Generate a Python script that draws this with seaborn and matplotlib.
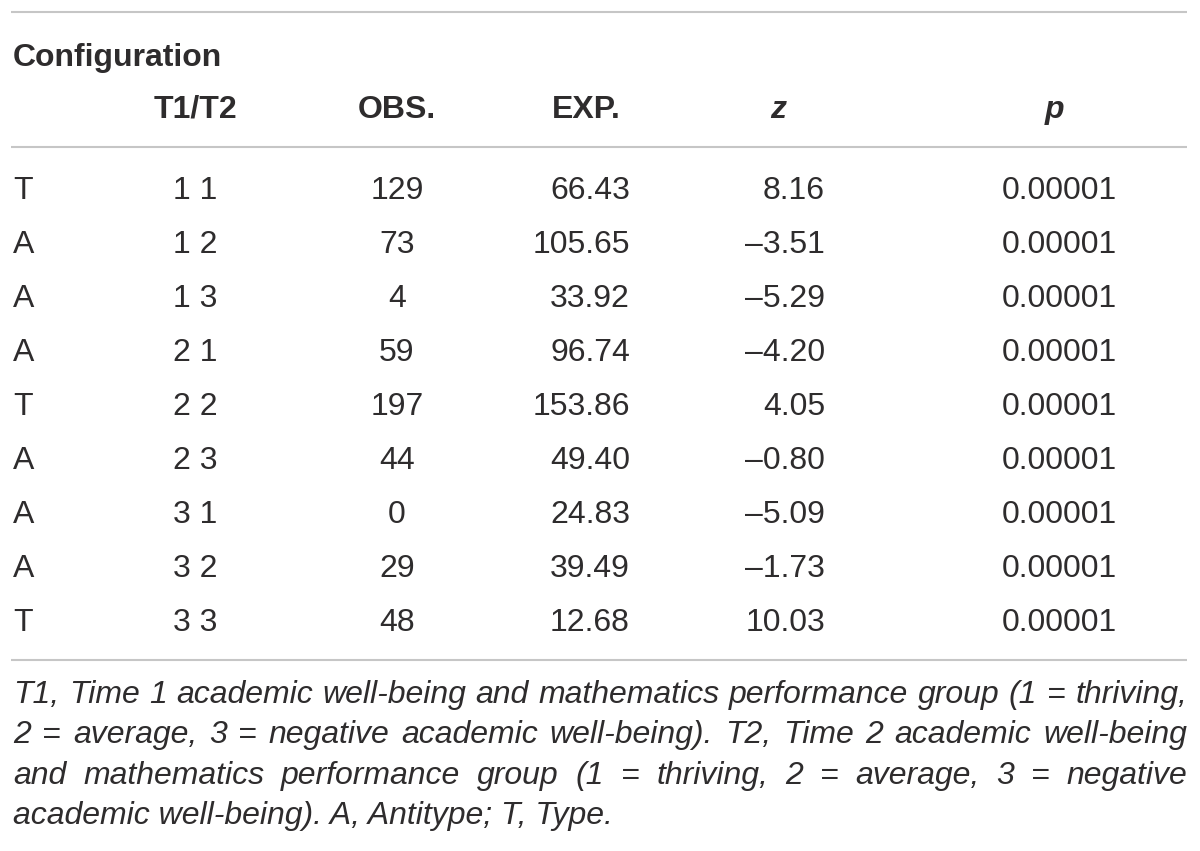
import matplotlib
matplotlib.use("Agg")
import matplotlib.pyplot as plt
import seaborn as sns

# table content
config_type = ["T", "A", "A", "A", "T", "A", "A", "A", "T"]
t1_t2 = ["1 1", "1 2", "1 3", "2 1", "2 2", "2 3", "3 1", "3 2", "3 3"]
observed = [129, 73, 4, 59, 197, 44, 0, 29, 48]
expected = [66.43, 105.65, 33.92, 96.74, 153.86, 49.40, 24.83, 39.49, 12.68]
z_values = [8.16, -3.51, -5.29, -4.20, 4.05, -0.80, -5.09, -1.73, 10.03]
p_values = [0.00001, 0.00001, 0.00001, 0.00001, 0.00001, 0.00001, 0.00001, 0.00001, 0.00001]

footnote_lines = [
    "T1, Time 1 academic well-being and mathematics performance group (1 = thriving,",
    "2 = average, 3 = negative academic well-being). T2, Time 2 academic well-being",
    "and mathematics performance group (1 = thriving, 2 = average, 3 = negative",
    "academic well-being). A, Antitype; T, Type.",
]

sns.set_theme(style="white")
plt.rcParams["font.family"] = ["Liberation Sans", "DejaVu Sans"]

TXT = "#2e2c2d"
RULE = "#c6c6c6"
FS = 23.0
FS_NOTE = 23.0

fig = plt.figure(figsize=(12, 8.51), dpi=100)
ax = fig.add_axes([0, 0, 1, 1])
ax.set_xlim(0, 1200)
ax.set_ylim(851, 0)
ax.axis("off")

left, right = 13, 1187

# rules
for y in [12, 147, 660]:
    ax.plot([left - 2, right], [y, y], color=RULE, lw=1.5, solid_capstyle="butt")

# headers
ax.text(left, 66, "Configuration", fontsize=FS, fontweight="bold", color=TXT, va="baseline")
head_y = 118
ax.text(195, head_y, "T1/T2", fontsize=FS, fontweight="bold", color=TXT, ha="center", va="baseline")
ax.text(397, head_y, "OBS.", fontsize=FS, fontweight="bold", color=TXT, ha="center", va="baseline")
ax.text(586, head_y, "EXP.", fontsize=FS, fontweight="bold", color=TXT, ha="center", va="baseline")
ax.text(778, head_y, "z", fontsize=FS, fontweight="bold", style="italic", color=TXT, ha="center", va="baseline")
ax.text(1054, head_y, "p", fontsize=FS, fontweight="bold", style="italic", color=TXT, ha="center", va="baseline")

# body rows
row0, row_step = 199, 54
for i in range(len(config_type)):
    y = row0 + i * row_step
    kw = dict(fontsize=FS, color=TXT, va="baseline")
    ax.text(left, y, config_type[i], ha="left", **kw)
    ax.text(195, y, t1_t2[i], ha="center", **kw)
    ax.text(397, y, str(observed[i]), ha="center", **kw)
    ax.text(630, y, f"{expected[i]:.2f}", ha="right", **kw)
    z_txt = f"{z_values[i]:.2f}".replace("-", "\u2013")
    ax.text(825, y, z_txt, ha="right", **kw)
    ax.text(1117, y, f"{p_values[i]:.5f}", ha="right", **kw)

# footnote, justified like the source
fig.canvas.draw()
renderer = fig.canvas.get_renderer()
note0, note_step = 703, 40.3
for j, line in enumerate(footnote_lines):
    y = note0 + j * note_step
    words = line.split(" ")
    kw = dict(fontsize=FS_NOTE, color=TXT, va="baseline", style="italic")
    if j == len(footnote_lines) - 1:
        ax.text(left, y, line, ha="left", **kw)
        continue
    arts = [ax.text(0, y, w, ha="left", **kw) for w in words]
    widths = [a.get_window_extent(renderer).width for a in arts]
    gap = (right - left - sum(widths)) / (len(words) - 1)
    x = left
    for a, w in zip(arts, widths):
        a.set_x(x)
        x += w + gap

fig.savefig("out.png", dpi=100, facecolor="white")
